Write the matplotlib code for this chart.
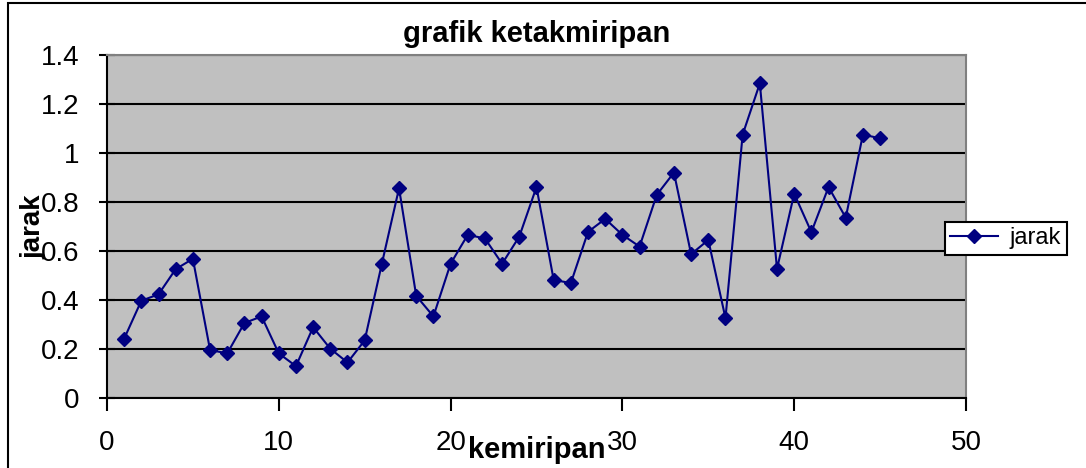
import matplotlib
matplotlib.use('Agg')
import matplotlib.pyplot as plt
from matplotlib.patches import Rectangle

plt.rcParams['font.family'] = ['Liberation Sans', 'DejaVu Sans']

# data
kemiripan = list(range(1, 46))
jarak = [0.242, 0.397, 0.423, 0.526, 0.568, 0.196, 0.182, 0.306, 0.333, 0.182,
         0.130, 0.289, 0.201, 0.145, 0.235, 0.548, 0.856, 0.417, 0.333, 0.548,
         0.666, 0.651, 0.548, 0.659, 0.861, 0.482, 0.469, 0.678, 0.731, 0.666,
         0.618, 0.829, 0.920, 0.587, 0.645, 0.326, 1.075, 1.284, 0.527, 0.834,
         0.677, 0.861, 0.736, 1.075, 1.060]
x_ticks = [0, 10, 20, 30, 40, 50]
y_ticks = [0, 0.2, 0.4, 0.6, 0.8, 1, 1.2, 1.4]
y_tick_labels = ['0', '0.2', '0.4', '0.6', '0.8', '1', '1.2', '1.4']

fig = plt.figure(figsize=(10.86, 4.68), dpi=100)
ax = fig.add_axes([0.0985, 0.1496, 0.791, 0.7329])

# outer chart border (left and top visible)
fig.patches.append(Rectangle((8 / 1086, -0.1), 1.2, 1.1 - 3.5 / 468, transform=fig.transFigure,
                             fill=False, edgecolor='black', linewidth=1.5))

ax.set_facecolor('#c0c0c0')
ax.plot(kemiripan, jarak, color='#000080', marker='D', markersize=7, linewidth=1.5,
        label='jarak', zorder=3)

ax.set_xlim(0, 50)
ax.set_ylim(0, 1.4)
ax.set_xticks(x_ticks)
ax.set_yticks(y_ticks)
ax.set_yticklabels(y_tick_labels)
ax.yaxis.grid(True, color='black', linewidth=1.5)
ax.set_axisbelow(True)

for side in ['top', 'right']:
    ax.spines[side].set_color('#808080')
    ax.spines[side].set_linewidth(1.5)
for side in ['left', 'bottom']:
    ax.spines[side].set_color('black')
    ax.spines[side].set_linewidth(1.5)

ax.tick_params(axis='x', direction='out', length=9, width=1.5, pad=14, labelsize=20)
ax.tick_params(axis='y', direction='inout', length=12, width=1.5, pad=14, labelsize=20)

ax.set_title('grafik ketakmiripan', fontsize=21, fontweight='bold', pad=9)
ax.set_xlabel('kemiripan', fontsize=21, fontweight='bold', labelpad=-14)
ax.yaxis.set_label_coords(-0.071, 0.57)
ax.set_ylabel('jarak', fontsize=20, fontweight='bold')

leg = ax.legend(loc='center left', bbox_to_anchor=(0.975, 0.465), fontsize=17,
                frameon=True, fancybox=False, borderpad=0.25, handlelength=2.0,
                handletextpad=0.5, borderaxespad=0)
leg.get_frame().set_edgecolor('black')
leg.get_frame().set_linewidth(1.5)
leg.get_frame().set_alpha(1)

fig.savefig('out.png', dpi=100)
